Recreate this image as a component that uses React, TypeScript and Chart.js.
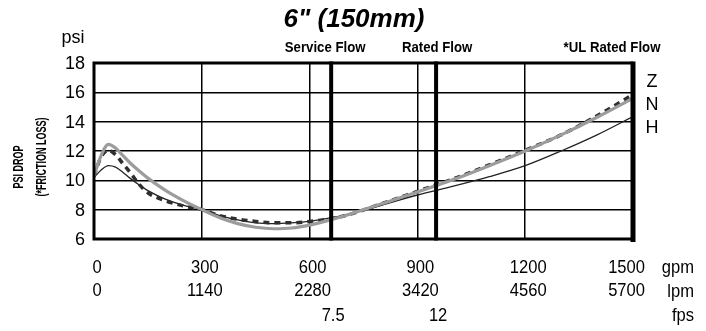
import React, { useEffect, useRef } from "react";
import { Chart, registerables } from "chart.js";

Chart.register(...registerables);

const SANS = "'Liberation Sans', Arial, Helvetica, sans-serif";

// flow values (gpm)
const flowGpm = [0, 20, 40, 60, 80, 100, 125, 150, 200, 250, 300, 350, 400, 450, 500, 550, 600, 650, 700, 800, 900, 1000, 1100, 1200, 1300, 1400, 1500];
const seriesZ = [10.3, 11.6, 12.05, 11.75, 11.15, 10.55, 9.75, 9.15, 8.6, 8.25, 8.0, 7.6, 7.35, 7.2, 7.1, 7.1, 7.2, 7.35, 7.6, 8.4, 9.25, 10.1, 11.05, 12.05, 13.1, 14.4, 15.85];
const seriesN = [10.3, 11.7, 12.45, 12.2, 11.7, 11.2, 10.65, 10.15, 9.3, 8.6, 8.0, 7.45, 7.05, 6.8, 6.7, 6.75, 6.95, 7.25, 7.6, 8.4, 9.2, 10.05, 11.0, 12.0, 13.1, 14.3, 15.6];
const seriesH = [10.2, 10.7, 11.0, 10.9, 10.55, 10.15, 9.7, 9.3, 8.7, 8.3, 8.0, 7.6, 7.3, 7.1, 7.05, 7.1, 7.2, 7.4, 7.65, 8.3, 9.0, 9.6, 10.25, 11.0, 12.0, 13.1, 14.35];
const seriesNames = ["Z", "N", "H"];

const gpmTicks = [0, 300, 600, 900, 1200, 1500];
const lpmTicks = ["0", "1140", "2280", "3420", "4560", "5700"];
const psiTicks = [6, 8, 10, 12, 14, 16, 18];
const fpsGpm = [660, 952];
const fpsLabels = ["7.5", "12"];
const flowMarkGpm = [660, 952, 1500];
const flowMarkLabels = ["Service Flow", "Rated Flow", "*UL Rated Flow"];
const unitLabels = ["gpm", "lpm", "fps"];
const title = '6" (150mm)';

const toPts = (ys: number[]) => flowGpm.map((x, i) => ({ x, y: ys[i] }));

function txt(ctx: any, t: string, x: number, y: number, font: string, align: string, sx = 1, rot = 0) {
  ctx.save();
  ctx.translate(x, y);
  if (rot) ctx.rotate(rot);
  ctx.scale(sx, 1);
  ctx.font = font;
  ctx.fillStyle = "#000";
  ctx.textAlign = align;
  ctx.textBaseline = "middle";
  ctx.fillText(t, 0, 0);
  ctx.restore();
}

const decorPlugin = {
  id: "decor",
  afterDatasetsDraw(chart: any) {
    const { ctx, chartArea: a, scales } = chart;
    const xs = scales.x;
    const ys = scales.y;
    ctx.save();
    ctx.strokeStyle = "#000";
    ctx.lineWidth = 3;
    ctx.beginPath();
    ctx.moveTo(a.left, a.top);
    ctx.lineTo(a.right, a.top);
    ctx.moveTo(a.left, a.bottom);
    ctx.lineTo(a.right, a.bottom);
    ctx.moveTo(a.left, a.top - 1.5);
    ctx.lineTo(a.left, a.bottom + 1.5);
    ctx.stroke();
    flowMarkGpm.forEach((g, i) => {
      const px = xs.getPixelForValue(g);
      ctx.lineWidth = i === 2 ? 5 : 4;
      ctx.beginPath();
      ctx.moveTo(px, a.top - 1.5);
      ctx.lineTo(px, a.bottom + (i === 2 ? 3 : 1.5));
      ctx.stroke();
    });
    ctx.restore();

    // title
    txt(ctx, title, 354, 20, `bold italic 25px ${SANS}`, "center", 1.04);

    // flow labels
    const flowOffsets = [-6, 1, -21];
    flowMarkLabels.forEach((t, i) => {
      txt(ctx, t, xs.getPixelForValue(flowMarkGpm[i]) + flowOffsets[i], 48, `bold 15px ${SANS}`, "center", 0.88);
    });

    // psi
    txt(ctx, "psi", 73, 38, `18px ${SANS}`, "center", 1);

    // y ticks
    psiTicks.forEach((v) => {
      txt(ctx, String(v), 85, ys.getPixelForValue(v) + 1, `18px ${SANS}`, "right", 1);
    });

    // x ticks
    gpmTicks.forEach((g, i) => {
      const px = xs.getPixelForValue(g);
      const last = i === gpmTicks.length - 1;
      const ax = last ? px + 12 : px + 3;
      const al = last ? "right" : "center";
      txt(ctx, String(g), ax, 268, `18px ${SANS}`, al, 0.92);
      txt(ctx, lpmTicks[i], ax, 291, `18px ${SANS}`, al, 0.92);
    });
    fpsGpm.forEach((g, i) => {
      txt(ctx, fpsLabels[i], xs.getPixelForValue(g) + 2, 316, `18px ${SANS}`, "center", 0.92);
    });
    unitLabels.forEach((u, i) => {
      txt(ctx, u, 694, 268 + i * 24, `18px ${SANS}`, "right", 0.92);
    });

    // series names
    seriesNames.forEach((n, i) => {
      txt(ctx, n, 652, 82 + i * 23, `18px ${SANS}`, "center", 1);
    });

    // rotated axis title
    txt(ctx, "PSI DROP", 19, 167, `bold 15px ${SANS}`, "center", 0.6, -Math.PI / 2);
    txt(ctx, "(*FRICTION LOSS)", 42, 157, `bold 15px ${SANS}`, "center", 0.6, -Math.PI / 2);
  },
};

export default function App() {
  const ref = useRef<HTMLCanvasElement>(null);
  useEffect(() => {
    if (!ref.current) return;
    const common = { pointRadius: 0, cubicInterpolationMode: "monotone", fill: false };
    const chart = new Chart(ref.current, {
      type: "line",
      data: {
        datasets: [
          { label: "N", data: toPts(seriesN), borderColor: "#9c9c9c", borderWidth: 3.2, ...common },
          { label: "N texture", data: toPts(seriesN), borderColor: "rgba(255,255,255,0.75)", borderWidth: 1, borderDash: [1, 2], ...common },
          { label: "Z", data: toPts(seriesZ), borderColor: "#2e2e2e", borderWidth: 3.5, borderDash: [6, 5], ...common },
          { label: "H", data: toPts(seriesH), borderColor: "#222", borderWidth: 1.3, ...common },
        ],
      },
      options: {
        responsive: false,
        animation: false,
        devicePixelRatio: 1,
        layout: { padding: { left: 94, right: 73, top: 63, bottom: 92 } },
        plugins: { legend: { display: false }, tooltip: { enabled: false }, title: { display: false } },
        scales: {
          x: {
            type: "linear",
            min: 0,
            max: 1500,
            ticks: { display: false, stepSize: 300 },
            grid: { color: "#000", lineWidth: 1.5, drawTicks: false },
            border: { display: false },
          },
          y: {
            type: "linear",
            min: 6,
            max: 18,
            ticks: { display: false, stepSize: 2 },
            grid: { color: "#000", lineWidth: 1.5, drawTicks: false },
            border: { display: false },
          },
        },
      },
      plugins: [decorPlugin],
    } as any);
    return () => chart.destroy();
  }, []);
  return (
    <div style={{ position: "absolute", left: 0, top: 0, width: 706, height: 331, background: "#fff" }}>
      <canvas ref={ref} width={706} height={331} style={{ width: 706, height: 331, display: "block" }} />
    </div>
  );
}
